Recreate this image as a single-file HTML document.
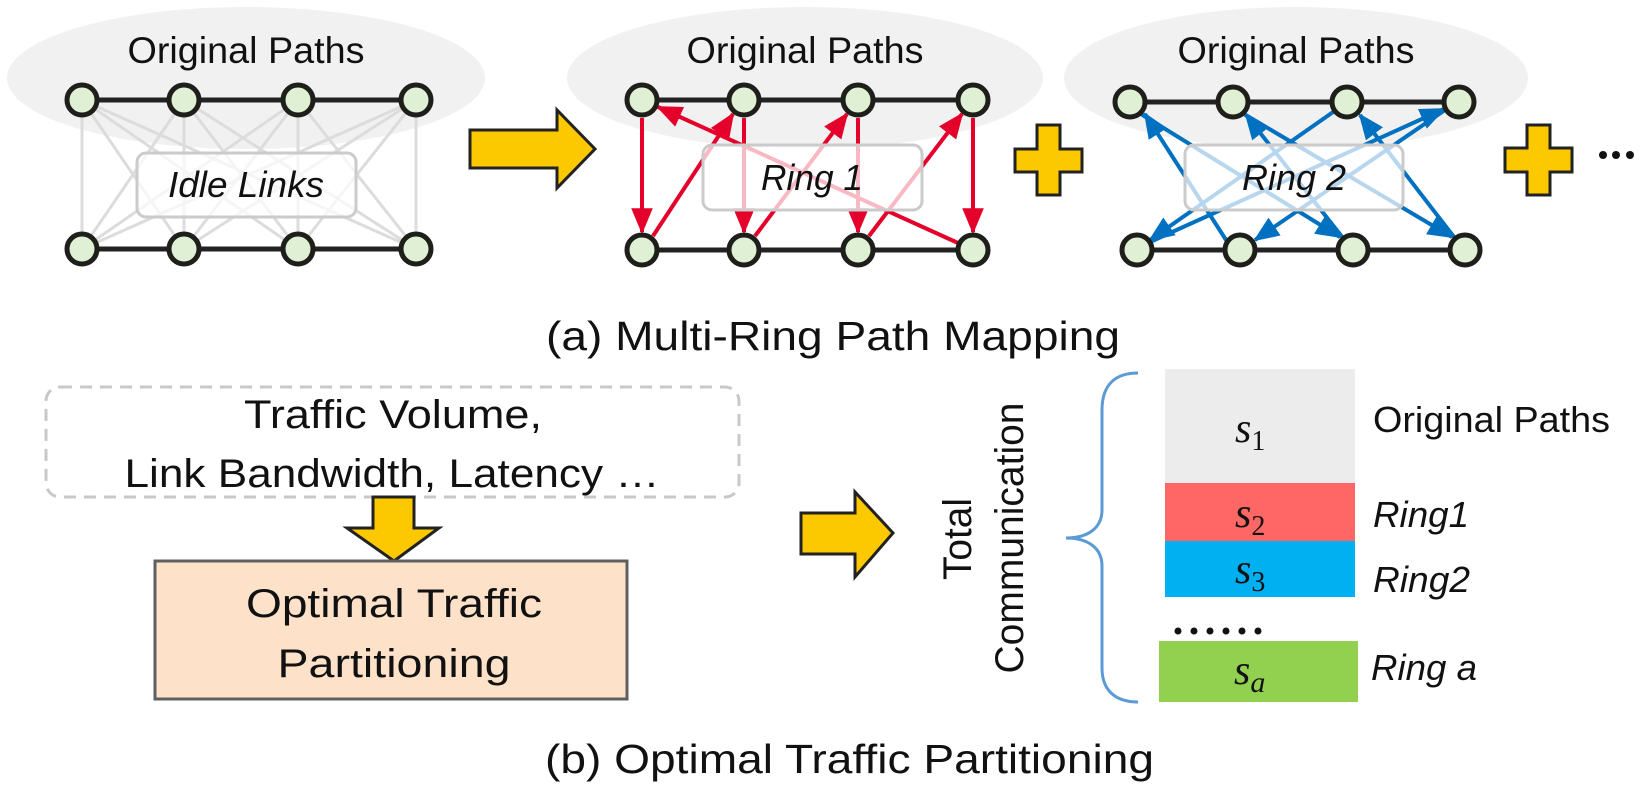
<!DOCTYPE html>
<html><head><meta charset="utf-8"><style>
html,body{margin:0;padding:0;background:#fff;}
svg{display:block;}
text{font-family:"Liberation Sans",sans-serif;fill:#111;}
.it{font-style:italic;}
.m{font-family:"Liberation Serif",serif;font-style:italic;}
</style></head><body>
<svg width="1645" height="790" viewBox="0 0 1645 790" xmlns="http://www.w3.org/2000/svg">
<defs>
<marker id="ar" viewBox="0 0 12 10" refX="11" refY="5" markerWidth="6.5" markerHeight="5.4" markerUnits="strokeWidth" orient="auto"><path d="M0,0L12,5L0,10z" fill="#e4002b"/></marker>
<marker id="ab" viewBox="0 0 12 10" refX="11" refY="5" markerWidth="6.5" markerHeight="5.4" markerUnits="strokeWidth" orient="auto"><path d="M0,0L12,5L0,10z" fill="#0070c0"/></marker>
</defs>
<ellipse cx="246" cy="78" rx="239" ry="71" fill="#f1f1f1"/>
<ellipse cx="805" cy="78" rx="238" ry="71" fill="#f1f1f1"/>
<ellipse cx="1296" cy="78" rx="232" ry="71" fill="#f1f1f1"/>
<text x="246" y="63" font-size="37" text-anchor="middle" textLength="237" lengthAdjust="spacingAndGlyphs">Original Paths</text>
<text x="805" y="63" font-size="37" text-anchor="middle" textLength="237" lengthAdjust="spacingAndGlyphs">Original Paths</text>
<text x="1296" y="63" font-size="37" text-anchor="middle" textLength="237" lengthAdjust="spacingAndGlyphs">Original Paths</text>

<g stroke="#dcdcdc" stroke-width="3">
<line x1="82" y1="100" x2="82" y2="249"/><line x1="82" y1="100" x2="184" y2="249"/><line x1="82" y1="100" x2="298" y2="249"/><line x1="82" y1="100" x2="416" y2="249"/>
<line x1="184" y1="100" x2="82" y2="249"/><line x1="184" y1="100" x2="184" y2="249"/><line x1="184" y1="100" x2="298" y2="249"/><line x1="184" y1="100" x2="416" y2="249"/>
<line x1="298" y1="100" x2="82" y2="249"/><line x1="298" y1="100" x2="184" y2="249"/><line x1="298" y1="100" x2="298" y2="249"/><line x1="298" y1="100" x2="416" y2="249"/>
<line x1="416" y1="100" x2="82" y2="249"/><line x1="416" y1="100" x2="184" y2="249"/><line x1="416" y1="100" x2="298" y2="249"/><line x1="416" y1="100" x2="416" y2="249"/>
</g>
<rect x="137" y="153" width="219" height="64" rx="9" fill="rgba(255,255,255,0.72)" stroke="#cbcbcb" stroke-width="3"/>
<text x="246" y="197" font-size="36" class="it" text-anchor="middle" textLength="156" lengthAdjust="spacingAndGlyphs">Idle Links</text>
<g stroke="#222" stroke-width="5"><line x1="82" y1="100" x2="416" y2="100"/><line x1="82" y1="249" x2="416" y2="249"/></g>
<g fill="#dff0d4" stroke="#1e1e1a" stroke-width="5">
<circle cx="82" cy="100" r="15"/><circle cx="184" cy="100" r="15"/><circle cx="298" cy="100" r="15"/><circle cx="416" cy="100" r="15"/>
<circle cx="82" cy="249" r="15"/><circle cx="184" cy="249" r="15"/><circle cx="298" cy="249" r="15"/><circle cx="416" cy="249" r="15"/>
</g>

<path d="M470,130 L557,130 L557,110 L595,149 L557,188 L557,168 L470,168 Z" fill="#fcc800" stroke="#222" stroke-width="3"/>

<g stroke="#e4002b" stroke-width="4" marker-end="url(#ar)">
<line x1="642" y1="118" x2="642" y2="232"/>
<line x1="653" y1="236" x2="733" y2="114"/>
<line x1="744" y1="118" x2="744" y2="232"/>
<line x1="755" y1="236" x2="847" y2="114"/>
<line x1="858" y1="118" x2="858" y2="232"/>
<line x1="869" y1="236" x2="962" y2="114"/>
<line x1="973" y1="118" x2="973" y2="232"/>
<line x1="958" y1="243" x2="658" y2="107"/>
</g>
<rect x="703" y="145" width="219" height="65" rx="9" fill="rgba(255,255,255,0.72)" stroke="#cbcbcb" stroke-width="3"/>
<text x="812" y="190" font-size="36" class="it" text-anchor="middle" textLength="102" lengthAdjust="spacingAndGlyphs">Ring 1</text>
<g stroke="#222" stroke-width="5"><line x1="642" y1="100" x2="973" y2="100"/><line x1="642" y1="250" x2="973" y2="250"/></g>
<g fill="#dff0d4" stroke="#1e1e1a" stroke-width="5">
<circle cx="642" cy="100" r="15"/><circle cx="744" cy="100" r="15"/><circle cx="858" cy="100" r="15"/><circle cx="973" cy="100" r="15"/>
<circle cx="642" cy="250" r="15"/><circle cx="744" cy="250" r="15"/><circle cx="858" cy="250" r="15"/><circle cx="973" cy="250" r="15"/>
</g>

<path d="M1037,125 h23 v24 h22 v23 h-22 v23 h-23 v-23 h-22 v-23 h22 z" fill="#fcc800" stroke="#222" stroke-width="3"/>

<g stroke="#0070c0" stroke-width="4" marker-end="url(#ab)">
<line x1="1141" y1="114" x2="1340" y2="237"/>
<line x1="1343" y1="238" x2="1246" y2="115"/>
<line x1="1244" y1="114" x2="1452" y2="237"/>
<line x1="1454" y1="237" x2="1360" y2="115"/>
<line x1="1336" y1="110" x2="1150" y2="240"/>
<line x1="1150" y1="242" x2="1444" y2="109"/>
<line x1="1445" y1="110" x2="1255" y2="240"/>
<line x1="1228" y1="243" x2="1145" y2="114"/>
</g>
<rect x="1185" y="145" width="218" height="65" rx="9" fill="rgba(255,255,255,0.72)" stroke="#cbcbcb" stroke-width="3"/>
<text x="1294" y="190" font-size="36" class="it" text-anchor="middle" textLength="104" lengthAdjust="spacingAndGlyphs">Ring 2</text>
<g stroke="#222" stroke-width="5"><line x1="1130" y1="102" x2="1459" y2="102"/><line x1="1137" y1="250" x2="1465" y2="250"/></g>
<g fill="#dff0d4" stroke="#1e1e1a" stroke-width="5">
<circle cx="1130" cy="102" r="15"/><circle cx="1233" cy="102" r="15"/><circle cx="1347" cy="102" r="15"/><circle cx="1459" cy="102" r="15"/>
<circle cx="1137" cy="250" r="15"/><circle cx="1240" cy="250" r="15"/><circle cx="1353" cy="250" r="15"/><circle cx="1465" cy="250" r="15"/>
</g>

<path d="M1527,125 h23 v23 h22 v24 h-22 v23 h-23 v-23 h-22 v-24 h22 z" fill="#fcc800" stroke="#222" stroke-width="3"/>
<g fill="#111"><circle cx="1603" cy="155" r="4"/><circle cx="1616" cy="155" r="4"/><circle cx="1630" cy="155" r="4"/></g>

<text x="546" y="350" font-size="41" textLength="574" lengthAdjust="spacingAndGlyphs">(a) Multi-Ring Path Mapping</text>

<rect x="46" y="387" width="693" height="110" rx="14" fill="none" stroke="#c8c8c8" stroke-width="3" stroke-dasharray="12,8"/>
<text x="393" y="428" font-size="40" text-anchor="middle" textLength="298" lengthAdjust="spacingAndGlyphs">Traffic Volume,</text>
<text x="392" y="487" font-size="40" text-anchor="middle" textLength="535" lengthAdjust="spacingAndGlyphs">Link Bandwidth, Latency …</text>
<path d="M373,497 L414,497 L414,528 L439,528 L394,561 L347,528 L373,528 Z" fill="#fcc800" stroke="#222" stroke-width="3"/>
<rect x="155" y="561" width="472" height="138" fill="#fde1c9" stroke="#5f5f5f" stroke-width="3"/>
<text x="394" y="617" font-size="40" text-anchor="middle" textLength="296" lengthAdjust="spacingAndGlyphs">Optimal Traffic</text>
<text x="394" y="677" font-size="40" text-anchor="middle" textLength="233" lengthAdjust="spacingAndGlyphs">Partitioning</text>

<path d="M801,513 L855,513 L855,492 L893,533 L855,577 L855,554 L801,554 Z" fill="#fcc800" stroke="#222" stroke-width="3"/>

<text transform="translate(971,539) rotate(-90)" font-size="40" text-anchor="middle" textLength="82" lengthAdjust="spacingAndGlyphs">Total</text>
<text transform="translate(1023,538) rotate(-90)" font-size="40" text-anchor="middle" textLength="271" lengthAdjust="spacingAndGlyphs">Communication</text>
<path d="M1138,373 C1115,373 1102,385 1102,410 L1102,510 C1102,528 1088,538 1066,538 C1088,538 1102,548 1102,566 L1102,668 C1102,690 1115,702 1138,702" fill="none" stroke="#5b9bd5" stroke-width="3"/>
<rect x="1165" y="369" width="190" height="114" fill="#ececec"/>
<rect x="1165" y="483" width="190" height="58" fill="#ff6666"/>
<rect x="1165" y="541" width="190" height="56" fill="#00b0f0"/>
<g fill="#111"><circle cx="1178" cy="631" r="3.5"/><circle cx="1194" cy="631" r="3.5"/><circle cx="1210" cy="631" r="3.5"/><circle cx="1226" cy="631" r="3.5"/><circle cx="1242" cy="631" r="3.5"/><circle cx="1258" cy="631" r="3.5"/></g>
<rect x="1159" y="641" width="199" height="61" fill="#92d050"/>
<text x="1235" y="442" class="m" font-size="42">s<tspan font-size="28" font-style="normal" dy="8">1</tspan></text>
<text x="1235" y="527" class="m" font-size="42">s<tspan font-size="28" font-style="normal" dy="8">2</tspan></text>
<text x="1235" y="583" class="m" font-size="42">s<tspan font-size="28" font-style="normal" dy="8">3</tspan></text>
<text x="1234" y="684" class="m" font-size="42">s<tspan font-size="30" dy="8">a</tspan></text>
<text x="1373" y="432" font-size="36" textLength="237" lengthAdjust="spacingAndGlyphs">Original Paths</text>
<text x="1373" y="527" font-size="36" class="it" textLength="96" lengthAdjust="spacingAndGlyphs">Ring1</text>
<text x="1373" y="592" font-size="36" class="it" textLength="97" lengthAdjust="spacingAndGlyphs">Ring2</text>
<text x="1371" y="680" font-size="36" class="it" textLength="106" lengthAdjust="spacingAndGlyphs">Ring a</text>

<text x="545" y="773" font-size="41" textLength="609" lengthAdjust="spacingAndGlyphs">(b) Optimal Traffic Partitioning</text>
</svg>
</body></html>
